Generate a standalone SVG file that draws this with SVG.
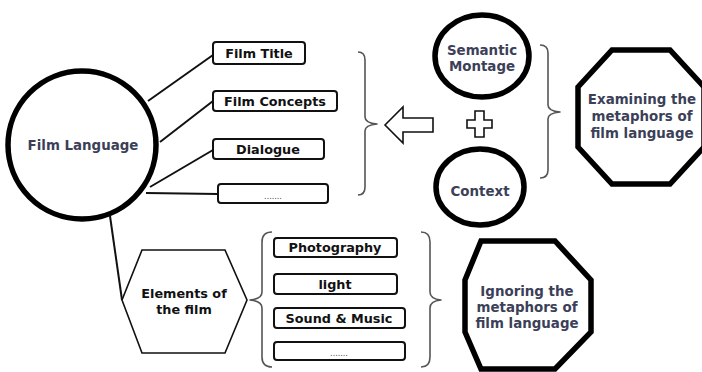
<svg xmlns="http://www.w3.org/2000/svg" width="702" height="372" viewBox="0 0 702 372">
  <style>
    text { font-family: "DejaVu Sans", "Open Sans", sans-serif; font-weight: 700; text-anchor: middle; }
    .lbl { font-size: 12.8px; fill: #111; }
    .big { font-size: 13.4px; fill: #3c3f58; }
    .dots { font-size: 8px; font-weight: 400; fill: #444; }
    .box { fill: #fff; stroke: #111; stroke-width: 2; }
    .heavy { fill: #fff; stroke: #000; stroke-width: 5.5; }
    .thin { fill: #fff; stroke: #111; stroke-width: 1.6; }
    .link { fill: none; stroke: #111; stroke-width: 2; }
    .brace { fill: none; stroke: #555; stroke-width: 1.6; stroke-linejoin: round; }
  </style>

  <!-- connectors from the central node -->
  <g id="connectors">
    <line class="link" x1="148" y1="101" x2="213" y2="55"/>
    <line class="link" x1="160" y1="142" x2="213" y2="101"/>
    <line class="link" x1="150" y1="187" x2="213" y2="150"/>
    <line class="link" x1="146" y1="193" x2="218" y2="194"/>
    <line class="link" x1="110" y1="216" x2="122" y2="300"/>
  </g>

  <g id="film-language">
    <circle class="heavy" cx="82" cy="145" r="74"/>
    <text class="big" x="83" y="150">Film Language</text>
  </g>

  <g id="film-title">
    <rect class="box" x="213" y="42" width="92" height="22" rx="3"/>
    <text class="lbl" x="259" y="58">Film Title</text>
  </g>
  <g id="film-concepts">
    <rect class="box" x="213" y="91" width="124" height="20" rx="3"/>
    <text class="lbl" x="275" y="105.5">Film Concepts</text>
  </g>
  <g id="dialogue">
    <rect class="box" x="213" y="139" width="111" height="20" rx="3"/>
    <text class="lbl" x="268" y="153.5">Dialogue</text>
  </g>
  <g id="more-language">
    <rect class="box" x="218" y="184" width="110" height="19" rx="3"/>
    <text class="dots" x="273" y="199">.......</text>
  </g>

  <!-- brace gathering the language items -->
  <g id="brace-language">
    <path class="brace" d="M358 52 Q365 52 365 60 L365 117 Q365 123 377 124 Q365 125 365 131 L365 187 Q365 195 358 195"/>
  </g>

  <g id="arrow-left">
    <path class="thin" d="M385 125 L403 107 L403 118 L433 118 L433 132 L403 132 L403 143 Z"/>
  </g>

  <g id="semantic-montage">
    <ellipse class="heavy" cx="482" cy="56" rx="47" ry="41"/>
    <text class="big" x="482" y="55">Semantic</text>
    <text class="big" x="482" y="71">Montage</text>
  </g>

  <g id="plus">
    <path class="thin" d="M475 111 L484 111 L484 120 L492 120 L492 128 L484 128 L484 137 L475 137 L475 128 L467 128 L467 120 L475 120 Z"/>
  </g>

  <g id="context">
    <ellipse class="heavy" cx="480" cy="187" rx="44" ry="38"/>
    <text class="big" x="480" y="196">Context</text>
  </g>

  <g id="brace-montage">
    <path class="brace" d="M540 45 Q548 45 548 53 L548 105 Q548 111 560 112 Q548 113 548 119 L548 170 Q548 178 540 178"/>
  </g>

  <g id="examining">
    <polygon class="heavy" points="612,50 670,50 704,87 704,147 670,184 612,184 578,147 578,87"/>
    <text class="big" x="642" y="104">Examining the</text>
    <text class="big" x="642" y="121">metaphors of</text>
    <text class="big" x="642" y="138">film language</text>
  </g>

  <g id="elements">
    <polygon class="thin" points="142,250 225,250 247,300 225,353 142,353 122,300"/>
    <text class="lbl" x="184" y="298">Elements of</text>
    <text class="lbl" x="184" y="314">the film</text>
  </g>

  <g id="brace-elements-open">
    <path class="brace" d="M272 232 Q262 232 262 242 L262 292 Q262 299 250 300 Q262 301 262 308 L262 357 Q262 367 272 367"/>
  </g>

  <g id="photography">
    <rect class="box" x="274" y="238" width="123" height="19" rx="3"/>
    <text class="lbl" x="335" y="252">Photography</text>
  </g>
  <g id="light">
    <rect class="box" x="274" y="274" width="123" height="20" rx="3"/>
    <text class="lbl" x="335" y="288.5">light</text>
  </g>
  <g id="sound-music">
    <rect class="box" x="274" y="308" width="131" height="20" rx="3"/>
    <text class="lbl" x="339" y="322.5">Sound &amp; Music</text>
  </g>
  <g id="more-elements">
    <rect class="box" x="274" y="342" width="131" height="18" rx="3"/>
    <text class="dots" x="339" y="356">.......</text>
  </g>

  <g id="brace-elements-close">
    <path class="brace" d="M421 232 Q430 232 430 242 L430 292 Q430 299 441 300 Q430 301 430 308 L430 357 Q430 367 421 367"/>
  </g>

  <g id="ignoring">
    <polygon class="heavy" points="481,241 555,241 591,280 591,332 555,369 481,369 465,332 465,280"/>
    <text class="big" x="527" y="296">Ignoring the</text>
    <text class="big" x="527" y="312">metaphors of</text>
    <text class="big" x="527" y="328">film language</text>
  </g>
</svg>
